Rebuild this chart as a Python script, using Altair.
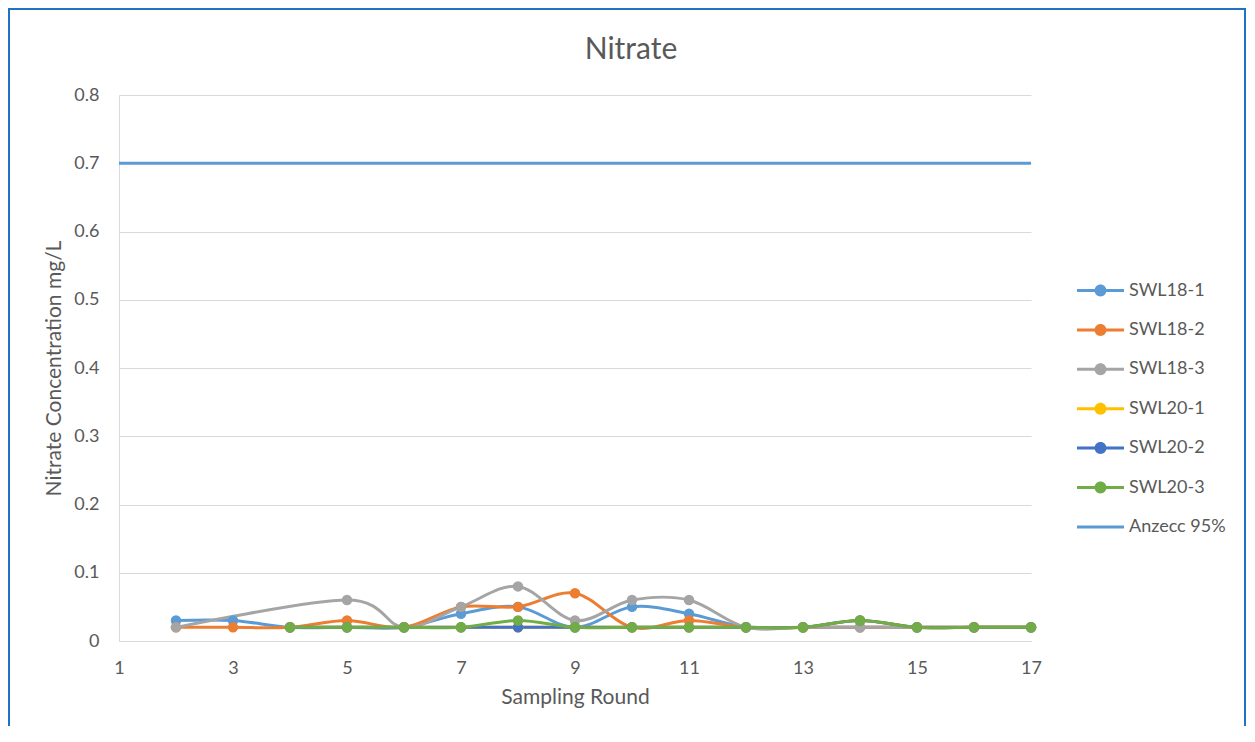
import altair as alt
import pandas as pd

# ---------------- data ----------------
rounds = list(range(2, 18))
swl18_1 = [0.03, 0.03, 0.02, 0.02, 0.02, 0.04, 0.05, 0.02, 0.05, 0.04, 0.02, 0.02, 0.02, 0.02, 0.02, 0.02]
swl18_2 = [0.02, 0.02, 0.02, 0.03, 0.02, 0.05, 0.05, 0.07, 0.02, 0.03, 0.02, 0.02, 0.02, 0.02, 0.02, 0.02]
swl18_3 = [0.02, None, None, 0.06, 0.02, 0.05, 0.08, 0.03, 0.06, 0.06, 0.02, 0.02, 0.02, 0.02, 0.02, 0.02]
swl20_1 = [None, None, 0.02, 0.02, 0.02, 0.02, 0.02, 0.02, 0.02, 0.02, 0.02, 0.02, 0.03, 0.02, 0.02, 0.02]
swl20_2 = [None, None, 0.02, 0.02, 0.02, 0.02, 0.02, 0.02, 0.02, 0.02, 0.02, 0.02, 0.03, 0.02, 0.02, 0.02]
swl20_3 = [None, None, 0.02, 0.02, 0.02, 0.02, 0.03, 0.02, 0.02, 0.02, 0.02, 0.02, 0.03, 0.02, 0.02, 0.02]
anzecc_rounds = [1, 17]
anzecc_values = [0.7, 0.7]

series_names = ["SWL18-1", "SWL18-2", "SWL18-3", "SWL20-1", "SWL20-2", "SWL20-3", "Anzecc 95%"]
series_colors = ["#5B9BD5", "#ED7D31", "#A5A5A5", "#FFC000", "#4472C4", "#70AD47", "#5B9BD5"]
x_ticks = [1, 3, 5, 7, 9, 11, 13, 15, 17]
y_ticks = [0, 0.1, 0.2, 0.3, 0.4, 0.5, 0.6, 0.7, 0.8]

rows = []
for name, vals in zip(series_names[:6], [swl18_1, swl18_2, swl18_3, swl20_1, swl20_2, swl20_3]):
    for r, v in zip(rounds, vals):
        if v is not None:
            rows.append({"series": name, "round": r, "value": v})
for r, v in zip(anzecc_rounds, anzecc_values):
    rows.append({"series": "Anzecc 95%", "round": r, "value": v})
df = pd.DataFrame(rows)

TXT = "#595959"
FONT = "Lato"

# legend symbols: line with a dot, and a plain line for the guideline
MARK_PATH = "M-1,-0.064H1V0.064H-1Z M0.255,0A0.255,0.255,0,1,1,-0.255,0A0.255,0.255,0,1,1,0.255,0Z"
LINE_PATH = "M-1,-0.064H1V0.064H-1Z"

legend = alt.Legend(
    title=None,
    orient="none",
    legendX=958,
    legendY=172,
    padding=0,
    symbolSize=2209,
    symbolStrokeWidth=0,
    symbolOpacity=1,
    symbolType={"expr": "datum.value === 'Anzecc 95%' ? '" + LINE_PATH + "' : '" + MARK_PATH + "'"},
    symbolFillColor={"expr": "scale('color', datum.value)"},
    labelFont=FONT,
    labelFontSize=18,
    labelColor=TXT,
    labelOffset=5,
    rowPadding=6.4,
)

color = alt.Color(
    "series:N",
    scale=alt.Scale(domain=series_names, range=series_colors),
    sort=series_names,
    legend=legend,
)

x = alt.X(
    "round:Q",
    scale=alt.Scale(domain=[1, 17], nice=False, zero=False),
    axis=alt.Axis(
        values=x_ticks,
        title="Sampling Round",
        grid=False,
        ticks=False,
        tickSize=0,
        labelFlush=False,
        labelPadding=18,
        titleY=62,
        titleBaseline="alphabetic",
    ),
)
y = alt.Y(
    "value:Q",
    scale=alt.Scale(domain=[0, 0.8], nice=False),
    axis=alt.Axis(
        values=y_ticks,
        format=".1~f",
        title="Nitrate Concentration mg/L",
        grid=True,
        ticks=False,
        tickSize=0,
        labelFlush=False,
        labelPadding=20,
        titleX=-59,
        titleY=273,
        titleAngle=270,
        titleAlign="center",
        titleBaseline="alphabetic",
    ),
)

base = alt.Chart(df)

lines = base.mark_line(interpolate="cardinal", strokeWidth=3).encode(x=x, y=y, color=color)
points = (
    base.transform_filter("datum.series !== 'Anzecc 95%'")
    .mark_circle(size=110, opacity=1)
    .encode(x=x, y=y, color=color)
)

frame = (
    alt.Chart(alt.Data(values=[{"k": 1}]))
    .mark_rect(fill="transparent", stroke="#2272C3", strokeWidth=2)
    .encode(x=alt.value(-110), x2=alt.value(1126), y=alt.value(-86), y2=alt.value(700))
)

chart = (
    alt.layer(frame, lines, points)
    .properties(
        width=912,
        height=546,
        autosize=alt.AutoSizeParams(type="none"),
        padding={"left": 111, "top": 87, "right": 216, "bottom": 85},
        title=alt.TitleParams(
            "Nitrate",
            font=FONT,
            fontSize=30,
            fontWeight="normal",
            color=TXT,
            anchor="middle",
            frame="group",
            baseline="alphabetic",
            dx=56,
            offset=-81,
        ),
    )
    .configure_axis(
        labelFont=FONT,
        labelFontSize=18,
        labelColor=TXT,
        titleFont=FONT,
        titleFontSize=21,
        titleFontWeight="normal",
        titleColor=TXT,
        gridColor="#D9D9D9",
        gridWidth=1,
        domainColor="#D9D9D9",
        domainWidth=1,
    )
    .configure_view(stroke=None)
)

chart.save("out.html", embed_options={"renderer": "svg", "actions": False})
